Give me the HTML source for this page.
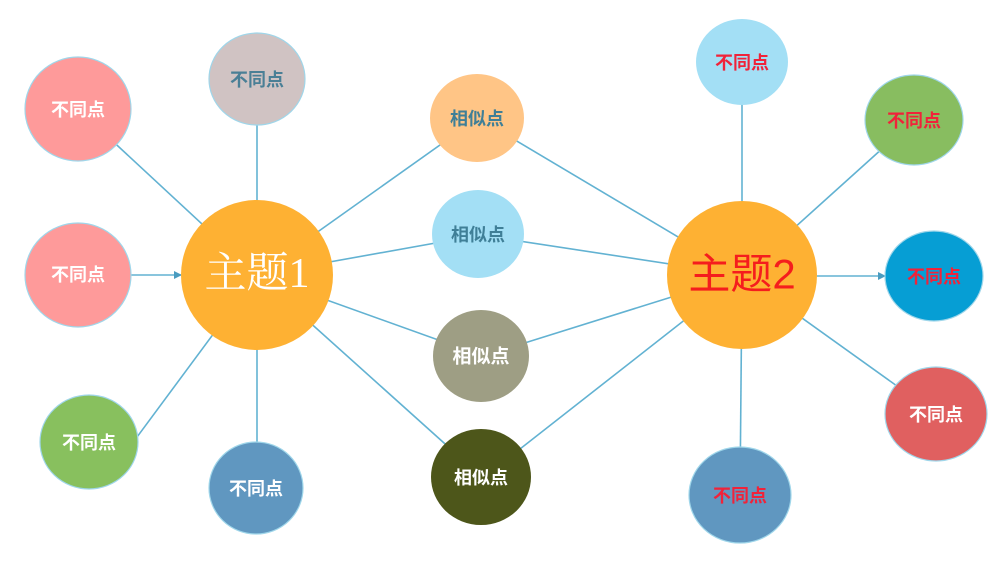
<!DOCTYPE html>
<html><head><meta charset="utf-8"><style>
html,body{margin:0;padding:0;background:#fff;}
svg{display:block;}
text{font-family:"Liberation Sans","Noto Sans CJK SC",sans-serif;text-anchor:middle;dominant-baseline:central;font-weight:bold;font-size:18px;}
</style></head><body>
<svg width="1006" height="573" viewBox="0 0 1006 573" xmlns="http://www.w3.org/2000/svg">
<defs><marker id="a" markerWidth="8" markerHeight="8" refX="7" refY="4" orient="auto" markerUnits="userSpaceOnUse"><path d="M0,0 L8,4 L0,8 z" fill="#4a9cc0"/></marker></defs>
<g stroke="#62b2d2" stroke-width="1.6" fill="none">
<line x1="78" y1="109" x2="257" y2="275"/>
<line x1="257" y1="80" x2="257" y2="275"/>
<line x1="120" y1="460" x2="257" y2="275"/>
<line x1="257" y1="488" x2="257" y2="275"/>
<line x1="478" y1="118" x2="257" y2="275"/>
<line x1="480" y1="235" x2="257" y2="275"/>
<line x1="483" y1="356" x2="257" y2="275"/>
<line x1="483" y1="478" x2="257" y2="275"/>
<line x1="478" y1="118" x2="742" y2="275"/>
<line x1="480" y1="235" x2="742" y2="275"/>
<line x1="483" y1="356" x2="742" y2="275"/>
<line x1="483" y1="478" x2="742" y2="275"/>
<line x1="742" y1="63" x2="742" y2="275"/>
<line x1="914" y1="120" x2="742" y2="275"/>
<line x1="936" y1="414" x2="742" y2="275"/>
<line x1="740" y1="495" x2="742" y2="275"/>
<line x1="131" y1="275" x2="181" y2="275" marker-end="url(#a)"/>
<line x1="817" y1="276" x2="885" y2="276" marker-end="url(#a)"/>
</g>
<g stroke="#9fd6ea" stroke-width="1.2">
<ellipse cx="78" cy="109" rx="53" ry="52" fill="#fe9a9a"/>
<ellipse cx="257" cy="79" rx="48" ry="46" fill="#d0c3c3"/>
<ellipse cx="78" cy="275" rx="53" ry="52" fill="#fe9a9a"/>
<ellipse cx="89" cy="442" rx="49" ry="47" fill="#88c05e"/>
<ellipse cx="256" cy="488" rx="47" ry="46" fill="#6097c0"/>
<ellipse cx="477" cy="118" rx="47" ry="44" fill="#ffc586" stroke="none"/>
<ellipse cx="478" cy="234" rx="46" ry="44" fill="#a3dff5" stroke="none"/>
<ellipse cx="481" cy="356" rx="48" ry="46" fill="#9e9e84" stroke="none"/>
<ellipse cx="481" cy="477" rx="50" ry="48" fill="#4d561a" stroke="none"/>
<ellipse cx="257" cy="275" rx="76" ry="75" fill="#feb133" stroke="none"/>
<ellipse cx="742" cy="275" rx="75" ry="74" fill="#feb133" stroke="none"/>
<ellipse cx="742" cy="62" rx="46" ry="43" fill="#a3dff5" stroke="none"/>
<ellipse cx="914" cy="120" rx="49" ry="45" fill="#88bd60"/>
<ellipse cx="934" cy="276" rx="49" ry="45" fill="#069ed4"/>
<ellipse cx="936" cy="414" rx="51" ry="47" fill="#e06060"/>
<ellipse cx="740" cy="495" rx="51" ry="48" fill="#6097c0"/>
</g>
<g>
<text x="78" y="110" fill="#fff">不同点</text>
<text x="257" y="80" fill="#4a7f96">不同点</text>
<text x="78" y="275" fill="#fff">不同点</text>
<text x="89" y="443" fill="#fff">不同点</text>
<text x="256" y="489" fill="#fff">不同点</text>
<text x="477" y="119" fill="#3f7f97">相似点</text>
<text x="478" y="235" fill="#3f7f97">相似点</text>
<text x="481" y="357" fill="#fff" style="font-size:19px">相似点</text>
<text x="481" y="478" fill="#fff">相似点</text>
<text x="257" y="274" fill="#fff" style="font-size:42px;font-family:'Liberation Serif','Noto Serif CJK SC',serif;font-weight:normal">主题1</text>
<text x="742" y="274" fill="#f51d1d" style="font-size:42px;font-weight:normal">主题2</text>
<text x="742" y="63" fill="#f0233a">不同点</text>
<text x="914" y="121" fill="#f0233a">不同点</text>
<text x="934" y="277" fill="#f0233a">不同点</text>
<text x="936" y="415" fill="#fff">不同点</text>
<text x="740" y="496" fill="#f0233a">不同点</text>
</g>
</svg>
</body></html>
